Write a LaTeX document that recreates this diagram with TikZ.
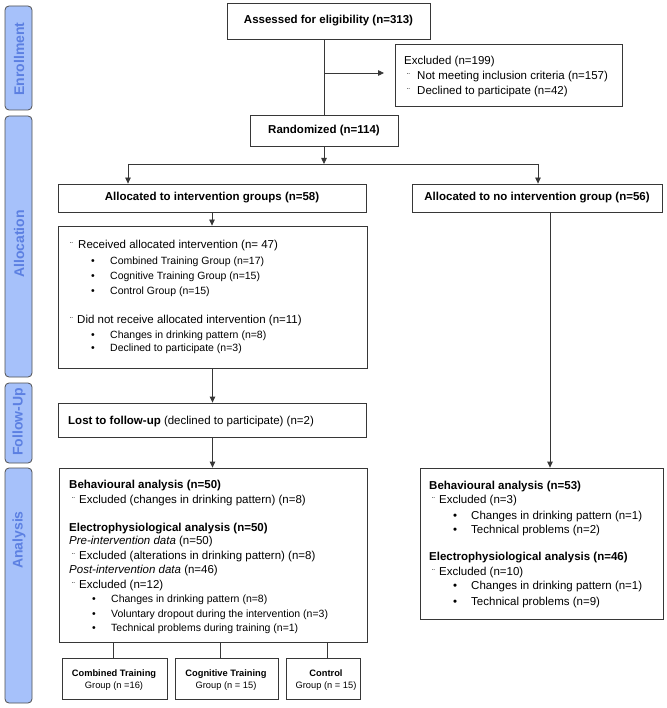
\documentclass[tikz,border=0pt]{standalone}
\usepackage{fontspec}
\setmainfont{Liberation Sans}
\usetikzlibrary{arrows.meta}
\definecolor{lnc}{RGB}{55,55,55}
\definecolor{lblfill}{RGB}{166,193,250}
\definecolor{lbltext}{RGB}{92,128,226}
\definecolor{lbldraw}{RGB}{80,80,80}
\newcommand\mainsz{\fontsize{11.5pt}{14pt}\selectfont}
\newcommand\bulsz{\fontsize{10.5pt}{13pt}\selectfont}
\newcommand\smsz{\fontsize{9.3pt}{11pt}\selectfont}
\newcommand\mksz{\fontsize{8.5pt}{9pt}\selectfont}
\begin{document}
\begin{tikzpicture}[x=1pt,y=-1pt,
 box/.style={draw=lnc, line width=0.8pt, inner sep=0pt, fill=white},
 lbl/.style={draw=lbldraw, fill=lblfill, rounded corners=4pt, line width=0.8pt, minimum width=27pt, inner sep=0pt},
 lbltxt/.style={rotate=90, text=lbltext, font=\fontsize{14pt}{14pt}\selectfont\bfseries, inner sep=0pt},
 arr/.style={draw=lnc, line width=0.8pt, -{Triangle[length=6pt,width=5.5pt]}},
 ln/.style={draw=lnc, line width=0.8pt},
 txt/.style={anchor=base west, inner sep=0pt, font=\mainsz},
 btxt/.style={anchor=base west, inner sep=0pt, font=\bulsz},
 mk/.style={anchor=base west, inner sep=0pt, font=\mksz},
 gtxt/.style={anchor=base, inner sep=0pt, font=\smsz},
]
\fill[white] (0,0) rectangle (666,708);
\useasboundingbox (0,0) rectangle (666,708);

% side labels
\node[lbl, minimum height=104pt] (lbEn) at (18.5,58) {};
\node[lbl, minimum height=261pt] (lbAl) at (18.5,246.5) {};
\node[lbl, minimum height=80pt] (lbFo) at (18.5,423) {};
\node[lbl, minimum height=235pt] (lbAn) at (18.5,585.5) {};
\node[lbltxt] (tEn) at (19,59) {Enrollment};
\node[lbltxt] (tAl) at (19,244) {Allocation};
\node[lbltxt] (tFo) at (19,422) {Follow-Up};
\node[lbltxt] (tAn) at (19,540) {Analysis};

% boxes
\node[box, minimum width=203pt, minimum height=36pt, font=\mainsz\bfseries] (assess) at (328.5,21) {Assessed for eligibility (n=313)};
\node[box, minimum width=227pt, minimum height=62pt] (excl) at (508.5,75) {};
\node[box, minimum width=148pt, minimum height=31pt, font=\mainsz\bfseries] (rand) at (324,130.5) {Randomized (n=114)};
\node[box, minimum width=308pt, minimum height=28pt, font=\mainsz\bfseries] (allocL) at (212,198) {Allocated to intervention groups (n=58)};
\node[box, minimum width=250pt, minimum height=28pt, font=\mainsz\bfseries] (allocR) at (537,198) {Allocated to no intervention group (n=56)};
\node[box, minimum width=309pt, minimum height=142pt] (big) at (212.5,297) {};
\node[box, minimum width=308pt, minimum height=34pt] (lost) at (212.5,420) {};
\node[box, minimum width=308pt, minimum height=174pt] (anL) at (213,555) {};
\node[box, minimum width=243pt, minimum height=151pt] (anR) at (541.5,543.5) {};
\node[box, minimum width=105pt, minimum height=41pt] (g1) at (114.5,678.5) {};
\node[box, minimum width=103pt, minimum height=41pt] (g2) at (226.5,678.5) {};
\node[box, minimum width=74pt, minimum height=41pt] (g3) at (323,678.5) {};

% connectors
\coordinate (ej) at (324,73);
\coordinate (et) at (384,73);
\coordinate (sl) at (128,164);
\coordinate (sr) at (538,164);
\coordinate (rx) at (550,0);
\coordinate (c1) at (113,658);
\coordinate (c2) at (220,658);
\coordinate (c3) at (327,658);
\draw[ln] (assess.south -| rand.north) -- (rand.north);
\draw[arr] (ej) -- (et);
\draw[arr] (rand.south) -- (rand.south |- sl);
\draw[ln] (sl) -- (sr);
\draw[arr] (sl) -- (sl |- allocL.north);
\draw[arr] (sr) -- (sr |- allocR.north);
\draw[arr] (allocL.south) -- (allocL.south |- big.north);
\draw[arr] (big.south) -- (big.south |- lost.north);
\draw[arr] (lost.south) -- (lost.south |- anL.north);
\draw[arr] (allocR.south -| rx) -- (anR.north -| rx);
\draw[ln] (anL.south -| c1) -- (c1);
\draw[ln] (anL.south -| c2) -- (c2);
\draw[ln] (anL.south -| c3) -- (c3);

% excluded text
\node[txt] (e0) at (404,65) {Excluded (n=199)};
\node[mk] (e1m) at (407,80) {¨};
\node[txt] (e1) at (417,80) {Not meeting inclusion criteria (n=157)};
\node[mk] (e2m) at (407,95) {¨};
\node[txt] (e2) at (417,95) {Declined to participate (n=42)};

% big allocation box text
\node[mk] (b1m) at (70,248) {¨};
\node[txt] (b1) at (78,248) {Received allocated intervention (n= 47)};
\node[btxt] (b2m) at (91,265) {•};
\node[btxt] (b2) at (110,265) {Combined Training Group (n=17)};
\node[btxt] (b3m) at (91,279) {•};
\node[btxt] (b3) at (110,279) {Cognitive Training Group (n=15)};
\node[btxt] (b4m) at (91,294) {•};
\node[btxt] (b4) at (110,294) {Control Group (n=15)};
\node[mk] (b5m) at (70,323) {¨};
\node[txt] (b5) at (77,323) {Did not receive allocated intervention (n=11)};
\node[btxt] (b6m) at (91,338) {•};
\node[btxt] (b6) at (110,338) {Changes in drinking pattern (n=8)};
\node[btxt] (b7m) at (91,351) {•};
\node[btxt] (b7) at (110,351) {Declined to participate (n=3)};

% lost
\node[txt] (l1) at (68,424) {\textbf{Lost to follow-up} (declined to participate) (n=2)};

% left analysis
\node[txt, font=\mainsz\bfseries] (a1) at (69,488) {Behavioural analysis (n=50)};
\node[mk] (a2m) at (72,503) {¨};
\node[txt] (a2) at (79,503) {Excluded (changes in drinking pattern) (n=8)};
\node[txt, font=\mainsz\bfseries] (a3) at (69,531) {Electrophysiological analysis (n=50)};
\node[txt] (a4) at (69,544) {\textit{Pre-intervention data} (n=50)};
\node[mk] (a5m) at (72,559) {¨};
\node[txt] (a5) at (79,559) {Excluded (alterations in drinking pattern) (n=8)};
\node[txt] (a6) at (69,573) {\textit{Post-intervention data} (n=46)};
\node[mk] (a7m) at (72,588) {¨};
\node[txt] (a7) at (79,588) {Excluded (n=12)};
\node[btxt] (a8m) at (92,602) {•};
\node[btxt] (a8) at (111,602) {Changes in drinking pattern (n=8)};
\node[btxt] (a9m) at (92,617) {•};
\node[btxt] (a9) at (111,617) {Voluntary dropout during the intervention (n=3)};
\node[btxt] (a10m) at (92,631) {•};
\node[btxt] (a10) at (111,631) {Technical problems during training (n=1)};

% groups
\node[gtxt, font=\smsz\bfseries] (g1a) at (114,676.5) {Combined Training};
\node[gtxt] (g1b) at (114,688.5) {Group (n =16)};
\node[gtxt, font=\smsz\bfseries] (g2a) at (226,676.5) {Cognitive Training};
\node[gtxt] (g2b) at (226,688.5) {Group (n = 15)};
\node[gtxt, font=\smsz\bfseries] (g3a) at (326,676.5) {Control};
\node[gtxt] (g3b) at (326,688.5) {Group (n = 15)};

% right analysis
\node[txt, font=\mainsz\bfseries] (r1) at (429,489) {Behavioural analysis (n=53)};
\node[mk] (r2m) at (432,503) {¨};
\node[txt] (r2) at (439,503) {Excluded (n=3)};
\node[txt] (r3m) at (453,519) {•};
\node[txt] (r3) at (471,519) {Changes in drinking pattern (n=1)};
\node[txt] (r4m) at (453,533) {•};
\node[txt] (r4) at (471,533) {Technical problems (n=2)};
\node[txt, font=\mainsz\bfseries] (r5) at (429,560) {Electrophysiological analysis (n=46)};
\node[mk] (r6m) at (432,575) {¨};
\node[txt] (r6) at (439,575) {Excluded (n=10)};
\node[txt] (r7m) at (453,589) {•};
\node[txt] (r7) at (471,589) {Changes in drinking pattern (n=1)};
\node[txt] (r8m) at (453,605) {•};
\node[txt] (r8) at (471,605) {Technical problems (n=9)};
\end{tikzpicture}
\end{document}
